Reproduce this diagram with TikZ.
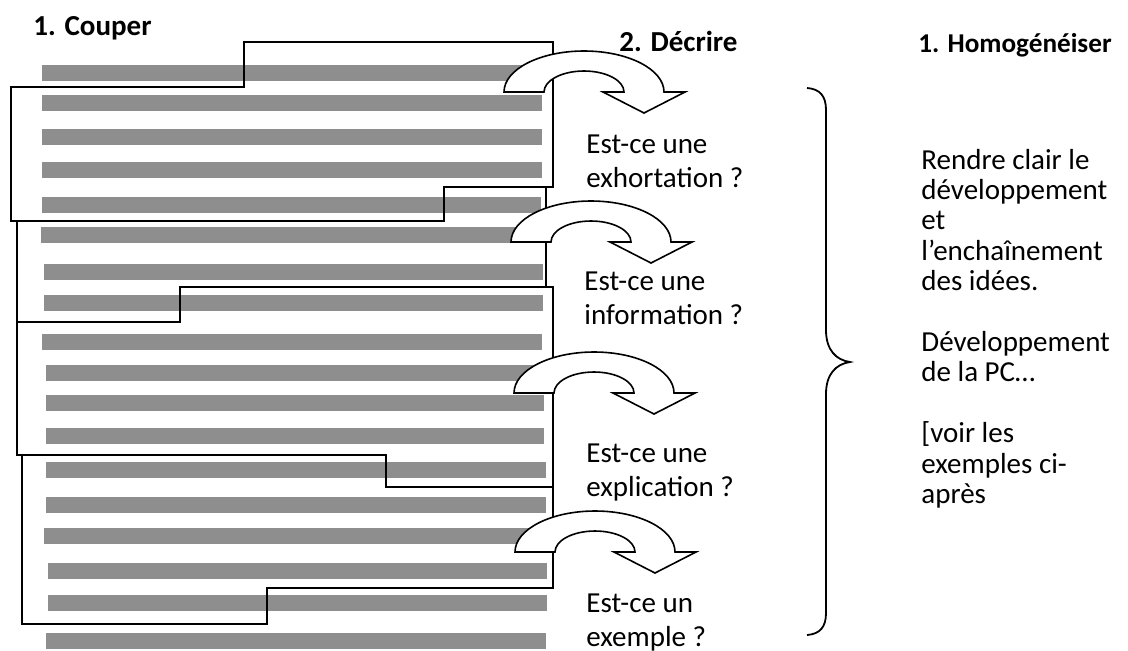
\documentclass[tikz,border=0pt]{standalone}
\usepackage{fontspec}
\setmainfont{Carlito}
\definecolor{bargray}{RGB}{142,142,142}
\tikzset{
  bar/.style={fill=bargray, draw=none},
  cutline/.style={line width=1pt, line join=miter},
  title/.style={anchor=base west, font=\fontsize{14.5pt}{17.5pt}\selectfont\bfseries, inner sep=0pt},
  txt/.style={anchor=base west, inner sep=0pt},
  turnarrow/.pic={
    \draw[line width=0.8pt, fill=white] (0,0)
      arc[start angle=180, end angle=360, x radius=80, y radius=41]
      -- (181,0) -- (140,21) -- (99,0) -- (120,0)
      arc[start angle=0, end angle=-180, x radius=40, y radius=21] -- cycle;
  },
}

\begin{document}
\begin{tikzpicture}[x=0.5pt, y=-0.5pt, font=\fontsize{14.5pt}{17.5pt}\selectfont]
\useasboundingbox (0,0) rectangle (1128,650);

% grey text lines
\foreach \yc/\xl/\xr in {73/42/540, 103/42/542, 137/42/542, 169.5/42/542, 205/42/541,
    235/41/540, 272/44/543, 303/44/543, 342/42/542, 372.5/46/544, 403/46/544,
    436/46/544, 469.5/46/546, 505/46/546, 536/44/546, 571/48/547, 603/48/547, 641/46/546}
  \fill[bar] (\xl,\yc-8) rectangle (\xr,\yc+8);

% cut outlines
\draw[cutline] (553,42) -- (244,42) -- (244,87) -- (11,87) -- (11,221) -- (444,221) -- (444,187) -- (553,187) -- cycle;
\draw[cutline] (444,187) -- (546,187) -- (546,287) -- (180,287) -- (180,322) -- (17,322) -- (17,221) -- (444,221) -- cycle;
\draw[cutline] (180,287) -- (553,287) -- (553,487) -- (386,487) -- (386,455) -- (17,455) -- (17,322) -- (180,322) -- cycle;
\draw[cutline] (22,455) -- (386,455) -- (386,487) -- (553,487) -- (553,588) -- (267,588) -- (267,624) -- (22,624) -- cycle;

% turn arrows
\pic (arr1) at (504,92) {turnarrow};
\pic (arr2) at (511,242) {turnarrow};
\pic (arr3) at (514,393) {turnarrow};
\pic (arr4) at (515,552) {turnarrow};

% headings
\node[title] (couper) at (33,35) {1. Couper};
\node[title] (decrire) at (619,51) {2. Décrire};
\node[title, font=\fontsize{13.6pt}{16pt}\selectfont\bfseries] (homog) at (918,52) {1. Homogénéiser};

% questions
\foreach \n/\x/\y/\la/\lb in {1/586/153/Est-ce une/exhortation ?, 2/584/290/Est-ce une/information ?,
    3/586/462/Est-ce une/explication ?, 4/586/612/Est-ce un/exemple ?} {
  \node[txt] (q\n a) at (\x,\y) {\la};
  \node[txt] (q\n b) at (\x,\y+34) {\lb};
}

% brace
\draw[line width=0.9pt] (807,88) .. controls (820,89) and (826,96) .. (826,110) -- (826,330)
  .. controls (826,350) and (836,360) .. (850,362) .. controls (836,364) and (826,374) .. (826,394)
  -- (826,613) .. controls (826,627) and (820,634) .. (807,635);

% right column
\foreach \k/\t in {0/Rendre clair le, 1/développement, 2/et, 3/l’enchaînement, 4/des idées.,
    6/Développement, 7/de la PC…, 9/[voir les, 10/exemples ci-, 11/après}
  \node[txt] (r\k) at (921,169+30.4*\k) {\t};
\end{tikzpicture}
\end{document}
